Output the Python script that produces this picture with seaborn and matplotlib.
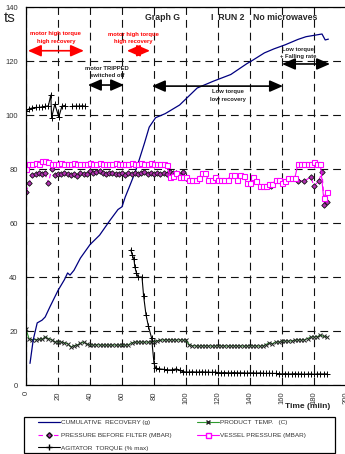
import numpy as np
import pandas as pd
import matplotlib
matplotlib.use("Agg")
import matplotlib.pyplot as plt
import seaborn as sns
from matplotlib.lines import Line2D
from matplotlib.patches import Rectangle

# ==========================================
# Data
# ==========================================

recovery_time = [2.5, 4.5, 7, 10, 12, 15, 18, 20, 24, 26, 27.5, 30, 34, 40, 46, 52.5,
                 57.5, 60, 62, 65, 68, 70, 74, 77, 81, 87, 96, 107, 117, 128, 138, 142,
                 149, 155, 162, 170, 175, 181, 185, 187, 189]
recovery = [8, 16.7, 23, 24, 25.2, 29, 32.6, 35, 39, 41.5, 40.7, 42.5, 47, 52, 55.5, 61,
            65, 66, 69.6, 74, 78.5, 82, 89.5, 95.5, 99, 100.5, 103.7, 110, 112.5, 115, 119, 120.4,
            123, 124.5, 126, 128, 129, 129.6, 130, 127.8, 128.1]

temp_time = [0, 2, 4, 6, 8, 10, 12, 14, 16, 18, 20, 22, 24, 26, 28, 30, 32, 34, 36, 38,
             40, 42, 44, 46, 48, 50, 52, 54, 56, 58, 60, 62, 64, 66, 68, 70, 72, 74, 76, 78,
             80, 82, 84, 86, 88, 90, 92, 94, 96, 98, 100, 102, 104, 106, 108, 110, 112, 114,
             116, 118, 120, 122, 124, 126, 128, 130, 132, 134, 136, 138, 140, 142, 144, 146,
             148, 150, 152, 154, 156, 158, 160, 162, 164, 166, 168, 170, 172, 174, 176, 178,
             180, 182, 184, 186, 188]
product_temp = [20.7, 17, 16.8, 16.8, 17, 16.9, 17.8, 17.2, 16.7, 16, 15.9, 15.9, 15.6, 15.3,
                14.1, 14.6, 14.8, 15.4, 15.9, 15.2, 14.8, 14.8, 14.9, 14.8, 14.8, 14.8, 14.8,
                14.8, 14.8, 14.8, 14.8, 14.8, 14.9, 15.6, 15.9, 15.9, 15.9, 15.9, 15.9, 15.9,
                16.1, 16.4, 16.6, 16.7, 16.7, 16.7, 16.7, 16.7, 16.7, 16.7, 16.6, 15, 14.5,
                14.5, 14.4, 14.5, 14.5, 14.5, 14.4, 14.5, 14.5, 14.5, 14.5, 14.4, 14.5, 14.5,
                14.5, 14.5, 14.4, 14.5, 14.5, 14.5, 14.5, 14.4, 14.5, 15, 15.6, 15.3, 15.9,
                15.9, 16.3, 16.3, 16.3, 16.3, 16.6, 16.7, 16.7, 16.7, 17.2, 17.8, 17.8, 17.9,
                18.5, 18, 17.8]

filter_time = [0, 2, 4, 6, 8, 10, 12, 14, 16, 18, 20, 22, 24, 26, 28, 30, 32, 34, 36, 38,
               40, 42, 44, 46, 48, 50, 52, 54, 56, 58, 60, 62, 64, 66, 68, 70, 72, 74, 76, 78,
               80, 82, 84, 86, 88, 90, 92, 94, 96, 98, 100,
               153,
               170, 174, 178, 180, 183, 185, 186.5, 188]
filter_pressure = [71.5, 74.8, 77.8, 78, 78.4, 78, 78.4, 74.8, 80, 77.8, 78, 78, 78.4, 78,
                   77.8, 78, 77.5, 78.4, 78, 78.2, 79.2, 78.6, 79, 79.2, 78.4, 78, 78.4, 78.6,
                   78, 78.2, 78.4, 77.8, 78.6, 78.2, 78.6, 78, 78.4, 79, 78.2, 78.6, 78.2, 78.6,
                   78, 78.4, 78.2, 78.9, 78.5, 78.4, 77.8, 78.9, 76.7,
                   73.7,
                   75.6, 75.6, 77, 73.7, 75.6, 78.9, 66.7, 67.8]
filter_segment = [1] * 51 + [2] + [3] * 8

vessel_time = temp_time
vessel_pressure = [80, 82, 82, 82.2, 82, 82.8, 83, 82.5, 82, 82, 82, 82.2, 81.8, 82, 82, 82.2,
                   82, 81.8, 82, 82, 82.2, 82, 82, 82.2, 82, 81.8, 82, 82, 82.2, 82, 82, 81.8,
                   82, 82.2, 82, 82, 82.2, 82, 82, 82.2, 82, 81.8, 82, 82, 81.5, 77, 77.4, 78.5,
                   77, 77, 77, 75.9, 75.9, 75.9, 76.5, 78.5, 78.5, 75.9, 75.9, 77, 75.9, 75.9,
                   75.9, 75.9, 77.8, 77.8, 75.9, 77.8, 77.3, 74.8, 74.8, 77, 75.5, 73.7, 73.7,
                   73.7, 74.4, 74.4, 75.9, 75.9, 74.8, 75.5, 76.7, 76.7, 76.7, 81.8, 81.8, 81.8,
                   81.8, 81.8, 82.6, 81.8, 81.8, 69.3, 71.5]

torque_time = [0, 2, 4, 6, 8, 10, 12, 14, 15.5, 16, 18, 20.5, 22.5, 24.5,
               29, 31, 33, 35, 37,
               65.5, 66.5, 67.5, 68, 69, 70, 72.5, 73.5, 75, 76.5, 78.5, 80, 81, 83, 86, 88,
               91, 94, 96, 98, 100, 102, 104, 106, 108, 110, 112, 114, 116, 118, 120, 122,
               124, 126, 128, 130, 132, 134, 136, 138, 140, 142, 144, 146, 148, 150, 152, 154,
               156, 158, 160, 162, 164, 166, 168, 170, 172, 174, 176, 178, 180, 182, 184, 186,
               188]
torque = [101.5, 102.3, 102.6, 102.8, 102.8, 103, 103.2, 103.4, 107.4, 99, 104, 99.3, 103.3,
          103.5,
          103.3, 103.3, 103.3, 103.4, 103.3,
          50, 48, 46.5, 43.8, 41.5, 40, 40, 33, 26, 21.8, 17.4, 8, 6.3, 6, 5.8, 5.6,
          5.6, 6, 5.4, 5, 4.8, 4.8, 4.9, 4.8, 4.8, 4.9, 4.8, 4.8, 4.7, 4.8, 4.6, 4.5,
          4.6, 4.5, 4.5, 4.6, 4.5, 4.5, 4.5, 4.4, 4.5, 4.5, 4.4, 4.5, 4.4, 4.3, 4.4, 4.3,
          4.3, 4.2, 4.1, 4.2, 4.1, 4.1, 4.2, 4.1, 4.1, 4.0, 4.1, 4.1, 4.0, 4.1, 4.1, 4.1,
          4.1]
torque_segment = [1] * 14 + [2] * 5 + [3] * 65

legend_labels = ["CUMULATIVE  RECOVERY (g)", "PRESSURE BEFORE FILTER (MBAR)",
                 "AGITATOR  TORQUE (% max)", "PRODUCT  TEMP.   (C)",
                 "VESSEL PRESSURE (MBAR)"]

# ==========================================
# Frames
# ==========================================

df_rec = pd.DataFrame({"time": recovery_time, "value": recovery})
df_temp = pd.DataFrame({"time": temp_time, "value": product_temp})
df_filter = pd.DataFrame({"time": filter_time, "value": filter_pressure, "seg": filter_segment})
df_vessel = pd.DataFrame({"time": vessel_time, "value": vessel_pressure})
df_torque = pd.DataFrame({"time": torque_time, "value": torque, "seg": torque_segment})

# ==========================================
# Plot
# ==========================================

sns.set_style("white")
plt.rcParams["font.family"] = ["Liberation Sans", "DejaVu Sans"]

NAVY = "#000080"
GREEN = "#2e9a2e"
MAGENTA = "#ff00ff"
RED = "#ff0000"

fig = plt.figure(figsize=(3.45, 4.54), dpi=100)
ax = fig.add_axes([26 / 345, 1 - 385 / 454, 320 / 345, 378 / 454])

sns.lineplot(data=df_temp, x="time", y="value", color=GREEN, linewidth=0.8,
             marker="x", markersize=3.2, markeredgecolor="#222222", markeredgewidth=0.7,
             estimator=None, sort=False, ax=ax, legend=False)
sns.lineplot(data=df_rec, x="time", y="value", color=NAVY, linewidth=0.9,
             estimator=None, sort=False, ax=ax, legend=False)
sns.lineplot(data=df_filter, x="time", y="value", units="seg", color=MAGENTA,
             linewidth=0.8, linestyle=(0, (4, 3)), marker="D", markersize=2.8,
             markerfacecolor="#b030b0", markeredgecolor="#111111", markeredgewidth=0.6,
             estimator=None, sort=False, ax=ax, legend=False)
sns.lineplot(data=df_vessel, x="time", y="value", color=MAGENTA, linewidth=0.8,
             marker="s", markersize=3.6, markerfacecolor="white", markeredgecolor=MAGENTA,
             markeredgewidth=0.8, estimator=None, sort=False, ax=ax, legend=False)
sns.lineplot(data=df_torque, x="time", y="value", units="seg", color="black",
             linewidth=0.8, marker="+", markersize=4, markeredgecolor="black",
             markeredgewidth=0.7, estimator=None, sort=False, ax=ax, legend=False)

ax.set_xlim(0, 200)
ax.set_ylim(0, 140)
ax.set_xticks(range(0, 201, 20))
ax.set_yticks(range(0, 141, 20))
ax.set_xlabel("")
ax.set_ylabel("")
ax.grid(True, color="#111111", linestyle=(0, (7, 4.5)), linewidth=0.8)
ax.tick_params(axis="x", labelrotation=90, labelsize=5.5, colors="#333333",
               direction="inout", length=5, width=0.8, pad=2)
ax.tick_params(axis="y", labelsize=5.5, colors="#333333", direction="out",
               length=4, width=0.8, pad=2)
for s in ax.spines.values():
    s.set_color("black")
    s.set_linewidth(0.9)
ax.spines["right"].set_visible(False)

ax.text(0.95, -0.058, "Time (miin)", transform=ax.transAxes, ha="right", va="center",
        fontsize=6, fontweight="bold", color="#222222")

# header text
ax.text(74.4, 136, "Graph G", fontsize=6.3, fontweight="bold", va="center")
ax.text(115.6, 136, "I  RUN 2", fontsize=6.3, fontweight="bold", va="center")
ax.text(141.9, 136, "No microwaves", fontsize=6.3, fontweight="bold", va="center")

# annotations
arrow_kw = dict(arrowstyle="<|-|>,head_length=0.8,head_width=0.35", lw=1.2,
                mutation_scale=10, shrinkA=0, shrinkB=0)
ax.annotate("", xy=(1.2, 123.8), xytext=(36.2, 123.8),
            arrowprops=dict(color=RED, **arrow_kw))
ax.annotate("", xy=(63.1, 123.8), xytext=(77.5, 123.8),
            arrowprops=dict(color=RED, **arrow_kw))
ax.annotate("", xy=(38.7, 111.1), xytext=(61.3, 111.1),
            arrowprops=dict(color="black", **arrow_kw))
ax.annotate("", xy=(78.7, 110.7), xytext=(160.6, 110.7),
            arrowprops=dict(color="black", **arrow_kw))
ax.annotate("", xy=(160, 118.9), xytext=(190, 118.9),
            arrowprops=dict(color="black", **arrow_kw))

note_kw = dict(ha="center", va="center", fontsize=4.2, fontweight="bold", linespacing=1.7)
ax.text(18.7, 128.7, "motor high torque\nhigh recovery", color=RED, **note_kw)
ax.text(66.9, 128.5, "motor high torque\nhigh recovery", color=RED, **note_kw)
ax.text(50.6, 115.9, "motor TRIPPED\nswitched off", color="#222222", **note_kw)
ax.text(126, 107.2, "Low torque\nlow recovery", color="#222222", **note_kw)
ax.text(170, 123, "Low torque\n+ Falling rate", color="#222222", **note_kw)

# clipped title fragment
fig.text(16 / 345, 1 - 22 / 454, "ts", fontsize=11, ha="right", va="baseline")

# legend
fig.add_artist(Rectangle((24 / 345, 1 - 453 / 454), 311 / 345, 36 / 454,
                         transform=fig.transFigure, fill=False, edgecolor="black",
                         linewidth=0.9))
handles = [
    Line2D([], [], color=NAVY, linewidth=0.9),
    Line2D([], [], color=MAGENTA, linewidth=0.8, linestyle=(0, (4, 3)), marker="D",
           markersize=2.8, markerfacecolor="#b030b0", markeredgecolor="#111111"),
    Line2D([], [], color="black", linewidth=0.8, marker="+", markersize=4),
    Line2D([], [], color=GREEN, linewidth=0.8, marker="x", markersize=3.2,
           markeredgecolor="#222222"),
    Line2D([], [], color=MAGENTA, linewidth=0.8, marker="s", markersize=3.6,
           markerfacecolor="white", markeredgecolor=MAGENTA),
]
fig.legend(handles, legend_labels, loc="upper left", bbox_to_anchor=(38 / 345, 1 - 419.5 / 454),
           ncol=2, frameon=False, fontsize=4.6, borderpad=0, borderaxespad=0,
           handlelength=3.4, handletextpad=0.2, columnspacing=4.0, labelspacing=1.15,
           labelcolor="#333333")

fig.savefig("out.png", dpi=100)
